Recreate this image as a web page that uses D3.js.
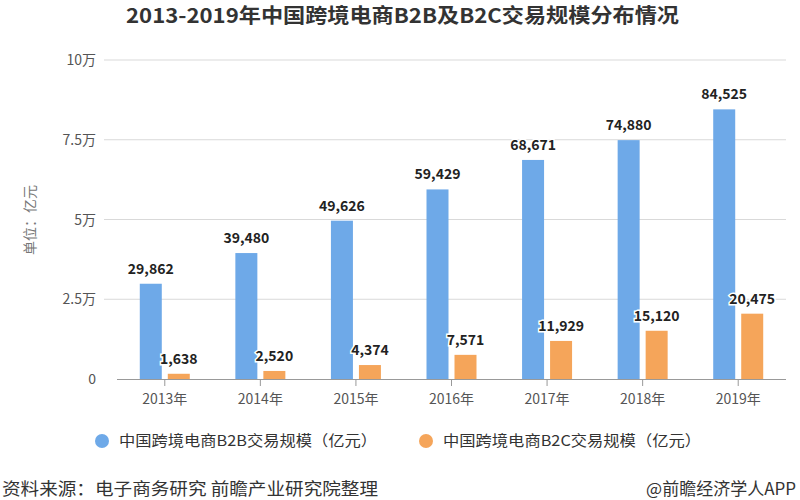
<!DOCTYPE html>
<html><head><meta charset="utf-8">
<script src="https://cdn.jsdelivr.net/npm/d3@7"></script>
<style>body{margin:0;background:#fff}svg{display:block}</style>
</head><body><svg id="c" width="800" height="500"></svg>
<script>
const years = ["2013年","2014年","2015年","2016年","2017年","2018年","2019年"];
const b2b = [29862,39480,49626,59429,68671,74880,84525];
const b2c = [1638,2520,4374,7571,11929,15120,20475];
const yTicks = [0,25000,50000,75000,100000];
const yTickLabels = ["0","2.5万","5万","7.5万","10万"];
const seriesNames = ["中国跨境电商B2B交易规模（亿元）","中国跨境电商B2C交易规模（亿元）"];
const colors = ["#6ea9e8","#f5a55a"];

const svg = d3.select("#c");
const font = "'Noto Sans CJK SC','Noto Sans',sans-serif";
const x = d3.scaleBand().domain(years).range([117,786]);
const y = d3.scaleLinear().domain([0,100000]).range([379,60]);

svg.append("text").attr("x",126).attr("y",23).attr("textLength",553).attr("lengthAdjust","spacingAndGlyphs")
  .attr("font-family",font).attr("font-weight","bold").attr("font-size",20).attr("fill","#333")
  .text("2013-2019年中国跨境电商B2B及B2C交易规模分布情况");

// gridlines
svg.append("g").selectAll("line").data(yTicks.slice(1)).join("line")
  .attr("x1",104).attr("x2",786).attr("y1",d=>y(d)).attr("y2",d=>y(d))
  .attr("stroke","#d9d9d9").attr("stroke-width",1);

// y labels
svg.append("g").selectAll("text").data(yTicks).join("text")
  .attr("x",96).attr("y",d=>y(d)+5).attr("text-anchor","end")
  .attr("font-family",font).attr("font-size",14).attr("fill","#555")
  .text((d,i)=>yTickLabels[i]);

svg.append("text").attr("transform","translate(35,220) rotate(-90)").attr("text-anchor","middle")
  .attr("font-family",font).attr("font-size",14).attr("fill","#777").text("单位：亿元");

const bw = 22, gap = 6;
const g = svg.append("g");
const series = [b2b,b2c];
series.forEach((arr,si)=>{
  const off = si===0 ? -gap/2-bw : gap/2;
  g.selectAll(".bar"+si).data(arr).join("rect")
    .attr("x",(d,i)=>x(years[i])+x.bandwidth()/2+off)
    .attr("y",d=>y(d)).attr("width",bw).attr("height",d=>y(0)-y(d))
    .attr("fill",colors[si]);
  g.selectAll(".lab"+si).data(arr).join("text")
    .attr("x",(d,i)=>x(years[i])+x.bandwidth()/2+off+bw/2)
    .attr("y",d=>y(d)-10).attr("text-anchor","middle")
    .attr("font-family",font).attr("font-weight","bold").attr("font-size",14).attr("fill","#222")
    .attr("stroke","#fff").attr("stroke-width",3).attr("paint-order","stroke")
    .text(d=>d3.format(",")(d));
});

// x axis
const xa = svg.append("g");
xa.append("line").attr("x1",117).attr("x2",786).attr("y1",379.5).attr("y2",379.5).attr("stroke","#999");
xa.selectAll(".tk").data(years).join("line")
  .attr("x1",d=>x(d)+x.bandwidth()/2).attr("x2",d=>x(d)+x.bandwidth()/2)
  .attr("y1",379).attr("y2",386).attr("stroke","#999");
xa.selectAll("text").data(years).join("text")
  .attr("x",d=>x(d)+x.bandwidth()/2).attr("y",404).attr("text-anchor","middle")
  .attr("font-family",font).attr("font-size",14).attr("fill","#555").text(d=>d);

// legend
const lx = [102,426];
seriesNames.forEach((n,i)=>{
  svg.append("circle").attr("cx",lx[i]).attr("cy",441).attr("r",7).attr("fill",colors[i]);
  svg.append("text").attr("x",lx[i]+17).attr("y",446).attr("textLength",258).attr("lengthAdjust","spacingAndGlyphs")
    .attr("font-family",font).attr("font-size",15).attr("fill","#333").text(n);
});

svg.append("text").attr("x",2).attr("y",495).attr("textLength",376).attr("lengthAdjust","spacingAndGlyphs")
  .attr("font-family",font).attr("font-size",17).attr("fill","#333")
  .text("资料来源：电子商务研究 前瞻产业研究院整理");
svg.append("text").attr("x",796).attr("y",495).attr("text-anchor","end").attr("font-family",font).attr("font-size",17).attr("fill","#333")
  .text("@前瞻经济学人APP");
</script></body></html>
